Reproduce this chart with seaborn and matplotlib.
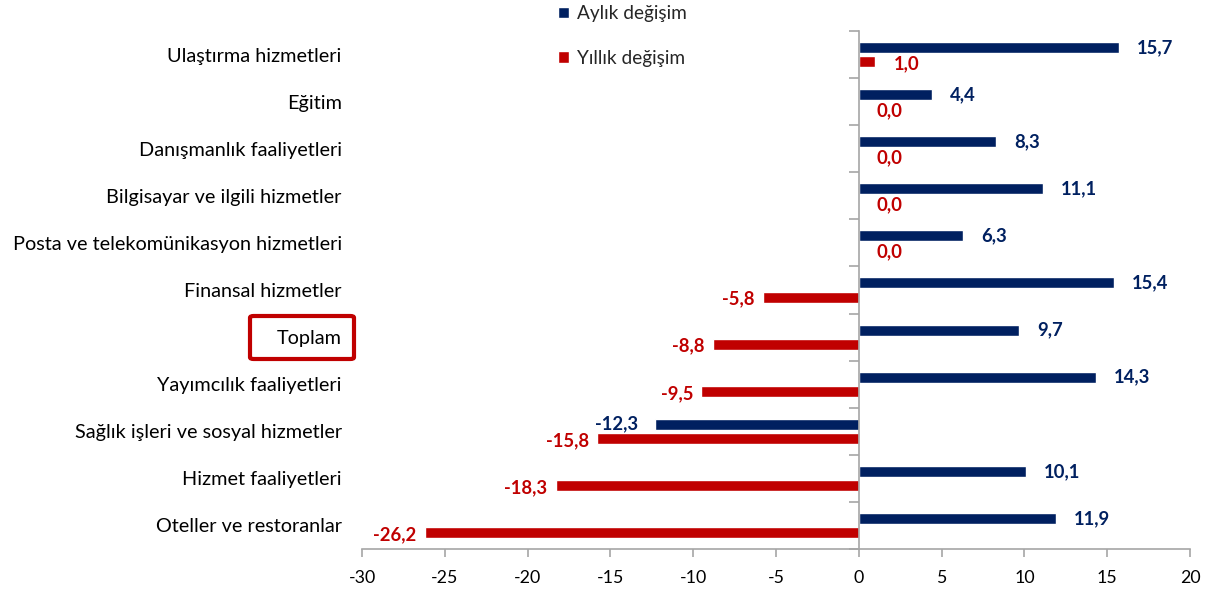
import matplotlib
matplotlib.use("Agg")
import matplotlib.pyplot as plt
import seaborn as sns
import pandas as pd
from matplotlib.patches import FancyBboxPatch, Patch
from matplotlib.ticker import FixedLocator

categories = [
    "Ulaştırma hizmetleri",
    "Eğitim",
    "Danışmanlık faaliyetleri",
    "Bilgisayar ve ilgili hizmetler",
    "Posta ve telekomünikasyon hizmetleri",
    "Finansal hizmetler",
    "Toplam",
    "Yayımcılık faaliyetleri",
    "Sağlık işleri ve sosyal hizmetler",
    "Hizmet faaliyetleri",
    "Oteller ve restoranlar",
]
aylik = [15.7, 4.4, 8.3, 11.1, 6.3, 15.4, 9.7, 14.3, -12.3, 10.1, 11.9]
yillik = [1.0, 0.0, 0.0, 0.0, 0.0, -5.8, -8.8, -9.5, -15.8, -18.3, -26.2]
series_names = ["Aylık değişim", "Yıllık değişim"]
x_ticks = [-30, -25, -20, -15, -10, -5, 0, 5, 10, 15, 20]

NAVY = "#002060"
RED = "#C00000"
GRAY = "#A6A6A6"
FONT = "Lato"

sns.set_theme(style="white")
plt.rcParams["font.family"] = [FONT, "DejaVu Sans"]
plt.rcParams["axes.unicode_minus"] = False

df = pd.DataFrame({
    "kategori": categories * 2,
    "deger": aylik + yillik,
    "seri": [series_names[0]] * len(categories) + [series_names[1]] * len(categories),
})

fig = plt.figure(figsize=(12.19, 5.93), dpi=100)
ax = fig.add_axes([362 / 1219, 1 - 549 / 593, (1190 - 362) / 1219, (549 - 31) / 593])

sns.barplot(data=df, x="deger", y="kategori", hue="seri", orient="h",
            order=categories, hue_order=series_names,
            palette=[NAVY, RED], width=0.6, gap=0.22, ax=ax,
            legend=False, errorbar=None, saturation=1)

ax.set_xlim(x_ticks[0], x_ticks[-1])
ax.set_ylim(len(categories) - 0.5, -0.5)
ax.set_xlabel("")
ax.set_ylabel("")

# spines
for s in ["top", "left"]:
    ax.spines[s].set_visible(False)
ax.spines["bottom"].set_color(GRAY)
ax.spines["bottom"].set_linewidth(1.2)
ax.spines["right"].set_position(("data", 0))
ax.spines["right"].set_color(GRAY)
ax.spines["right"].set_linewidth(1.2)

# x ticks
ax.xaxis.set_major_locator(FixedLocator(x_ticks))
ax.set_xticklabels([str(t) for t in x_ticks])
ax.tick_params(axis="x", which="major", direction="out", length=6, width=1.2,
               color=GRAY, labelsize=12.8, labelcolor="black", pad=9, bottom=True)

# y: labels on left, boundary ticks on the zero axis
ax.yaxis.set_minor_locator(FixedLocator([i - 0.5 for i in range(len(categories) + 1)]))
ax.tick_params(axis="y", which="major", left=True, right=False, length=0, pad=14.5,
               labelsize=14.3, labelcolor="black")
ax.tick_params(axis="y", which="minor", left=False, right=True, direction="in",
               length=7, width=1.2, color=GRAY)
ax.grid(False)

# value labels
fmt = lambda v: f"{v:.1f}".replace(".", ",")
for cont, col, vals in zip(ax.containers, [NAVY, RED], [aylik, yillik]):
    for bar, v in zip(cont, vals):
        yc = bar.get_y() + bar.get_height() / 2
        if v >= 0:
            dx, ha = 13, "left"
        else:
            dx, ha = (-12 if col == NAVY else -6), "right"
        dy = -1.5 if col == RED else 0
        ax.annotate(fmt(v), (v, yc), xytext=(dx, dy), textcoords="offset points",
                    ha=ha, va="center", color=col, fontsize=13.3, fontweight="bold")

# legend
handles = [Patch(facecolor=NAVY), Patch(facecolor=RED)]
fig.legend(handles, series_names, loc="upper left", bbox_to_anchor=(541 / 1219, 1 + 12 / 593),
           frameon=False, handlelength=0.55, handleheight=0.55, labelspacing=1.45,
           handletextpad=0.45, fontsize=13.7)

# highlight box around "Toplam"
box = FancyBboxPatch((250 / 1219, 1 - 359 / 593), (354 - 250) / 1219, (359 - 316) / 593,
                     boxstyle="round,pad=0,rounding_size=0.003", transform=fig.transFigure,
                     fill=False, edgecolor=RED, linewidth=3)
fig.patches.append(box)

fig.savefig("out.png", dpi=100)
